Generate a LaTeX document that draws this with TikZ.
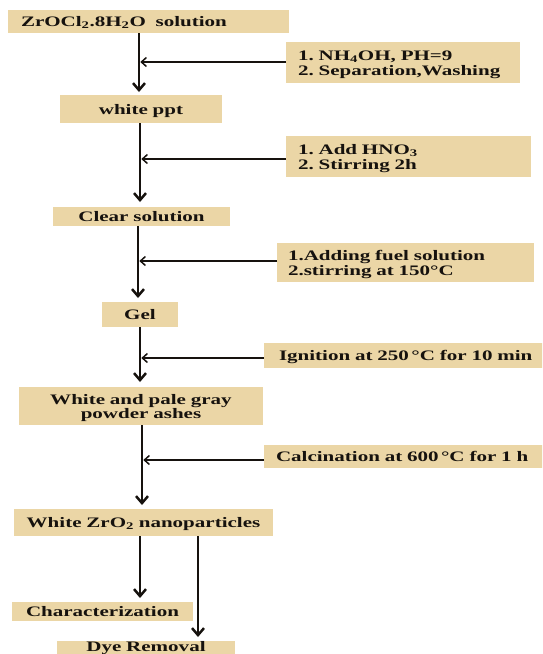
\documentclass[tikz,border=0pt]{standalone}
\usepackage{fontspec}
\setmainfont{Liberation Serif}[FakeStretch=1.45]
\usetikzlibrary{arrows.meta}
\definecolor{papyrus}{RGB}{235,214,166}
\definecolor{ink}{RGB}{22,18,14}
\tikzset{
  box/.style={fill=papyrus, anchor=north west, inner ysep=0pt, outer sep=0pt, text depth=0pt,
    font=\fontsize{14.5}{14.5}\selectfont\bfseries\frenchspacing, text=ink},
  twoline/.style={text height=10pt, text depth=14pt},
  varrow/.style={line width=2.5pt, draw=ink, -{Straight Barb[length=7pt,width=12pt]}},
  harrow/.style={line width=1.5pt, draw=ink, -{Straight Barb[length=5pt,width=9pt]}},
}
\begin{document}
\begin{tikzpicture}[x=1pt,y=1pt]
\useasboundingbox (0,0) rectangle (542,-654);
\clip (0,0) rectangle (542,-654);

% main column
\node[box, inner xsep=13pt, text width=255pt, minimum height=23pt, align=left] (b1) at (8,-10)
  {ZrOCl\textsubscript{2}.8H\textsubscript{2}O\ \ solution};
\node[box, inner xsep=4pt, text width=154pt, minimum height=28pt, align=center] (b2) at (60,-95) {white ppt};
\node[box, inner xsep=4pt, text width=169pt, minimum height=19pt, align=center] (b3) at (53,-207) {Clear solution};
\node[box, inner xsep=4pt, text width=68pt, minimum height=25pt, align=center] (b4) at (102,-302) {Gel};
\node[box, twoline, inner xsep=4pt, text width=236pt, minimum height=38pt, align=center] (b5) at (19,-387)
  {White and pale gray\\powder ashes};
\node[box, inner xsep=4pt, text width=251pt, minimum height=27pt, align=center] (b6) at (14,-509)
  {White ZrO\textsubscript{2} nanoparticles};
\node[box, inner xsep=4pt, text width=173pt, minimum height=19pt, align=center] (b7) at (12,-602) {Characterization};
\node[box, inner xsep=4pt, text width=170pt, minimum height=13pt, align=center, text depth=3pt] (b8) at (57,-641) {Dye Removal};

% side boxes
\node[box, twoline, inner xsep=12pt, text width=210pt, minimum height=41pt, align=left] (r1) at (286,-42)
  {1. NH\textsubscript{4}OH, PH=9\\2. Separation,Washing};
\node[box, twoline, inner xsep=12pt, text width=221pt, minimum height=41pt, align=left] (r2) at (286,-136)
  {1. Add HNO\textsubscript{3}\\2. Stirring 2h};
\node[box, twoline, inner xsep=11pt, text width=235pt, minimum height=39pt, align=left] (r3) at (277,-243)
  {1.Adding fuel solution\\2.stirring at 150°C};
\node[box, inner xsep=15pt, text width=270pt, minimum height=25pt, align=left] (r4) at (264,-343)
  {Ignition at 250\,°C for 10 min};
\node[box, inner xsep=12pt, text width=276pt, minimum height=23pt, align=left] (r5) at (264,-445)
  {Calcination at 600\,°C for 1 h};

% junctions on the vertical lines
\coordinate (j1) at (139,-62);
\coordinate (j2) at (140,-159);
\coordinate (j3) at (138,-261);
\coordinate (j4) at (140,-358);
\coordinate (j5) at (142,-460);
\coordinate (k1) at (140,-570);
\coordinate (k2) at (198,-590);

% vertical arrows
\draw[varrow, shorten >=3pt] (b1.south -| j1) -- (b2.north -| j1);
\draw[varrow, shorten >=5pt] (b2.south -| j2) -- (b3.north -| j2);
\draw[varrow, shorten >=4pt] (b3.south -| j3) -- (b4.north -| j3);
\draw[varrow, shorten >=5pt] (b4.south -| j4) -- (b5.north -| j4);
\draw[varrow, shorten >=4pt] (b5.south -| j5) -- (b6.north -| j5);
\draw[varrow, shorten >=4pt] (b6.south -| k1) -- (b7.north -| k1);
\draw[varrow, shorten >=4pt] (b6.south -| k2) -- (b8.north -| k2);

% horizontal arrows
\draw[harrow] (r1.west |- j1) -- ([xshift=1.3pt]j1);
\draw[harrow] (r2.west |- j2) -- ([xshift=1.3pt]j2);
\draw[harrow] (r3.west |- j3) -- ([xshift=1.3pt]j3);
\draw[harrow] (r4.west |- j4) -- ([xshift=1.3pt]j4);
\draw[harrow] (r5.west |- j5) -- ([xshift=1.3pt]j5);
\end{tikzpicture}
\end{document}
